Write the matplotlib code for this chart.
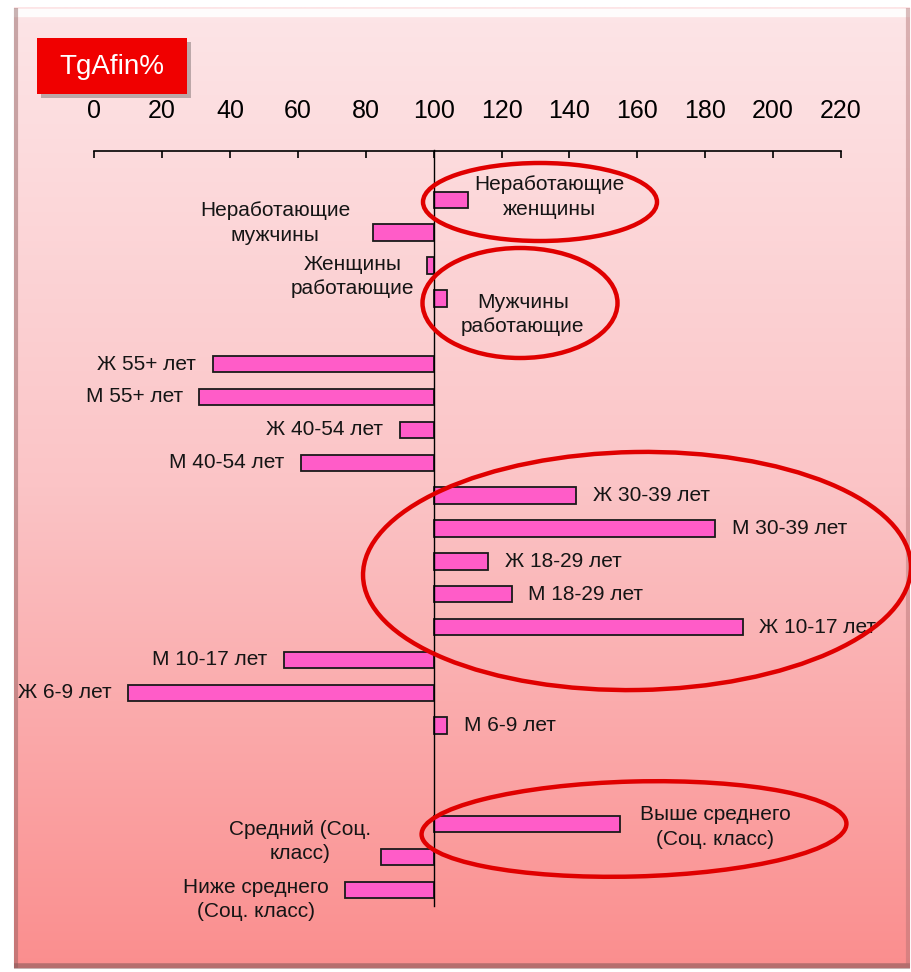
import numpy as np
import matplotlib
matplotlib.use("Agg")
import matplotlib.pyplot as plt
from matplotlib.patches import Ellipse, Rectangle

plt.rcParams['font.family'] = ['Liberation Sans', 'DejaVu Sans']

# ---- data (top to bottom; blank slots are empty categories) ----
categories = ["", "Неработающие\nженщины", "Неработающие\nмужчины", "Женщины\nработающие",
              "Мужчины\nработающие", "", "Ж 55+ лет", "М 55+ лет", "Ж 40-54 лет", "М 40-54 лет",
              "Ж 30-39 лет", "М 30-39 лет", "Ж 18-29 лет", "М 18-29 лет", "Ж 10-17 лет",
              "М 10-17 лет", "Ж 6-9 лет", "М 6-9 лет", "", "",
              "Выше среднего\n(Соц. класс)", "Средний (Соц.\nкласс)", "Ниже среднего\n(Соц. класс)"]
values = [np.nan, 110, 82, 98, 104, np.nan, 35, 31, 90, 61,
          142, 183, 116, 123, 191, 56, 10, 104, np.nan, np.nan,
          155, 84.5, 74]
xticks = [0, 20, 40, 60, 80, 100, 120, 140, 160, 180, 200, 220]
baseline = 100
title_label = "TgAfin%"

# label offsets in points (dx away from bar end, dy) for wrapped labels
label_offsets = {1: (5, 2), 2: (16, 7), 3: (9, -8), 4: (10, -11.5),
                 20: (14, -2), 21: (7, 11), 22: (12, -7)}

W, H = 912, 972
fig = plt.figure(figsize=(W / 100, H / 100), dpi=100)
fig.patch.set_facecolor("white")

# ---- background panel with gradient ----
bg = fig.add_axes([0, 0, 1, 1], zorder=-5)
bg.set_xlim(0, W); bg.set_ylim(H, 0); bg.axis("off")
px0, py0, px1, py1 = 14, 8, 910, 968
top = np.array([253, 229, 231]) / 255
mid = np.array([251, 196, 198]) / 255
bot = np.array([250, 142, 142]) / 255
t = np.linspace(0, 1, 400)[:, None]
grad = np.where(t < 0.5, top + (mid - top) * (t / 0.5), mid + (bot - mid) * ((t - 0.5) / 0.5))
grad = grad[:, None, :].repeat(2, axis=1)
bg.imshow(grad, extent=[px0, px1, py1, py0], aspect="auto", interpolation="bilinear")
# bevel edges
bg.plot([px0, px1], [py0 + 5, py0 + 5], color="white", lw=6, alpha=0.9, solid_capstyle="butt")
bg.plot([px0 + 2, px0 + 2], [py0, py1], color="#8a5a5a", lw=3, alpha=0.45, solid_capstyle="butt")
bg.plot([px0, px1], [py1 - 2, py1 - 2], color="#8a5a5a", lw=4, alpha=0.6, solid_capstyle="butt")
bg.plot([px1 - 2, px1 - 2], [py0, py1], color="#b07070", lw=3, alpha=0.45, solid_capstyle="butt")

# ---- main chart ----
ax_left, ax_right = 94.2 / W, 841 / W
ax_top, ax_bot = 150.5 / H, 906.4 / H
ax = fig.add_axes([ax_left, 1 - ax_bot, ax_right - ax_left, ax_bot - ax_top])
ax.patch.set_alpha(0)
n = len(categories)
ypos = np.arange(n)
vals = np.array(values, dtype=float)
mask = ~np.isnan(vals)
ax.barh(ypos[mask], vals[mask] - baseline, left=baseline, height=0.5,
        color="#FF5CC8", edgecolor="#1a1a1a", linewidth=1.3, zorder=3)
ax.set_xlim(0, 220)
ax.set_ylim(n - 0.5, -0.5)
ax.xaxis.tick_top()
ax.set_xticks(xticks)
ax.set_xticklabels([str(v) for v in xticks], fontsize=18)
ax.tick_params(axis="x", direction="in", length=5, width=1.2, pad=20, colors="black")
ax.set_yticks([])
for s in ["right", "bottom"]:
    ax.spines[s].set_visible(False)
ax.spines["top"].set_linewidth(1.2)
ax.spines["left"].set_position(("data", baseline))
ax.spines["left"].set_linewidth(1.0)
ax.spines["left"].set_zorder(4)

for i, (lab, v) in enumerate(zip(categories, values)):
    if np.isnan(v) or not lab:
        continue
    dx, dy = label_offsets.get(i, (12, 0))
    if v >= baseline:
        ha, off = "left", dx
    else:
        ha, off = "right", -dx
    ax.annotate(lab, xy=(v, i), xytext=(off, dy), textcoords="offset points",
                ha=ha, va="center", fontsize=15, color="#151515",
                multialignment="center", linespacing=1.35)

# ---- overlay: title box and red ellipses ----
ov = fig.add_axes([0, 0, 1, 1], zorder=10)
ov.set_xlim(0, W); ov.set_ylim(H, 0); ov.axis("off"); ov.patch.set_alpha(0)
ov.add_patch(Rectangle((41, 42), 150, 56, facecolor="#000000", alpha=0.25, lw=0))
ov.add_patch(Rectangle((37, 38), 150, 56, facecolor="#F00000", lw=0))
ov.text(112, 67, title_label, color="white", fontsize=20, ha="center", va="center")

ellipses = [((540, 202), 234, 78, 0), ((520, 303), 195, 110, 0),
            ((637, 571), 548, 238, -1), ((634, 829), 425, 95, -1.5)]
for (c, w, h, ang) in ellipses:
    ov.add_patch(Ellipse(c, w, h, angle=ang, fill=False, edgecolor="#E00000", lw=3.2))

fig.savefig("out.png", dpi=100)
